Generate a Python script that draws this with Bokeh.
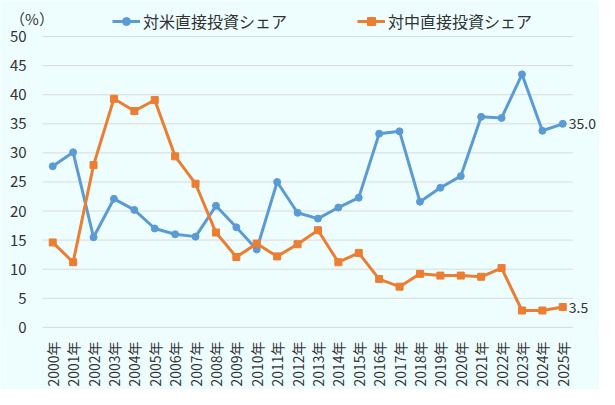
import numpy as np
from bokeh.plotting import figure
from bokeh.models import ColumnDataSource, Range1d, FixedTicker, Legend, LegendItem, Label
from bokeh.core.properties import value
from bokeh.embed import file_html
from bokeh.resources import INLINE

# dados
anos = [str(a) + "年" for a in range(2000, 2026)]
eua = [27.7, 30.1, 15.5, 22.1, 20.2, 17.0, 16.0, 15.6, 20.9, 17.2, 13.4, 25.0, 19.7,
       18.7, 20.6, 22.3, 33.3, 33.7, 21.6, 24.0, 26.0, 36.2, 36.0, 43.5, 33.8, 35.0]
china = [14.6, 11.2, 27.9, 39.3, 37.2, 39.1, 29.4, 24.7, 16.3, 12.1, 14.4, 12.2, 14.3,
         16.7, 11.2, 12.8, 8.3, 7.0, 9.2, 8.9, 8.9, 8.7, 10.2, 2.9, 2.9, 3.5]
nome_eua = "対米直接投資シェア"
nome_china = "対中直接投資シェア"
yticks = list(range(0, 55, 5))
unidade = "（%）"

fonte = "Noto Sans CJK JP"
cor_texto = "#333333"
azul = "#5B9BD5"
laranja = "#ED7D31"

x = list(range(len(anos)))
n = len(anos)
source = ColumnDataSource(dict(x=x, eua=eua, china=china))

# o quadro ocupa a largura toda, o eixo y fica fixo em x=-0.5
p = figure(width=599, height=389, output_backend="svg", toolbar_location=None,
           x_range=Range1d(-2.56, 26.8), y_range=Range1d(-1.4, 56.2),
           min_border_left=0, min_border_right=0, min_border_top=0, min_border_bottom=49)
p.background_fill_color = "#EEFEFF"
p.border_fill_color = "#EEFEFF"
p.outline_line_color = None
p.xgrid.grid_line_color = None
p.ygrid.grid_line_color = None

# linhas de grade so no trecho dos anos
p.segment(x0=-0.5, x1=n - 0.5, y0=yticks, y1=yticks, line_color="#D9D9D9", line_width=1)

# series
l1 = p.line('x', 'eua', source=source, line_color=azul, line_width=3)
m1 = p.scatter('x', 'eua', source=source, marker="circle", size=7, fill_color=azul, line_color=azul)
l2 = p.line('x', 'china', source=source, line_color=laranja, line_width=3)
m2 = p.scatter('x', 'china', source=source, marker="square", size=7, fill_color=laranja, line_color=laranja)

# rotulos do ultimo valor
fim = ColumnDataSource(dict(x=[x[-1], x[-1]], y=[eua[-1], china[-1]],
                            t=["%.1f" % eua[-1], "%.1f" % china[-1]]))
p.text('x', 'y', text='t', source=fim, x_offset=6, text_baseline="middle",
       text_font=value(fonte), text_font_size="14px", text_color=cor_texto)

# eixos
p.xaxis.ticker = FixedTicker(ticks=x)
p.xaxis.major_label_overrides = {i: a for i, a in enumerate(anos)}
p.xaxis.major_label_orientation = np.pi / 2
p.yaxis.ticker = FixedTicker(ticks=yticks)
p.yaxis.fixed_location = -0.5
for ax in [p.xaxis, p.yaxis]:
    ax.axis_line_color = None
    ax.major_tick_line_color = None
    ax.minor_tick_line_color = None
    ax.major_label_text_font = fonte
    ax.major_label_text_color = cor_texto
p.xaxis.major_label_text_font_size = "14px"
p.yaxis.major_label_text_font_size = "15px"
p.yaxis.major_label_standoff = 10
p.xaxis.major_label_standoff = 0

# unidade
p.add_layout(Label(x=-2.09, y=53.1, text=unidade, text_font=fonte, text_font_size="15px",
                   text_color=cor_texto, text_baseline="middle"))

# legenda
legend = Legend(items=[LegendItem(label=nome_eua, renderers=[l1, m1]),
                       LegendItem(label=nome_china, renderers=[l2, m2])],
                orientation="horizontal", location=(112, 302), spacing=70,
                padding=0, margin=0, glyph_width=28, glyph_height=20,
                label_text_font=fonte, label_text_font_size="16px",
                label_text_color=cor_texto, background_fill_alpha=0,
                border_line_color=None, label_standoff=3)
p.add_layout(legend)

open("out.html", "w").write(file_html(p, INLINE))
